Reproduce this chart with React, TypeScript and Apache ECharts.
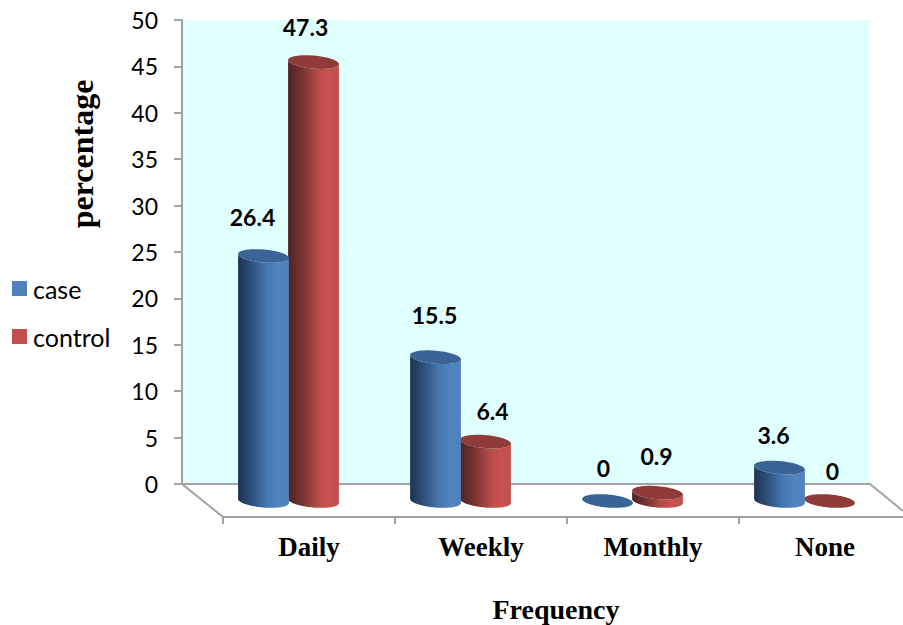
import React, { useEffect, useRef } from "react";
import * as echarts from "echarts";

const categories = ["Daily", "Weekly", "Monthly", "None"];
const caseValues = [26.4, 15.5, 0, 3.6];
const controlValues = [47.3, 6.4, 0.9, 0];
const yTicks = { min: 0, max: 50, interval: 5 };

// Hand placement of the value labels relative to each cylinder's top centre.
const caseLabelShift = [[-11, -39], [-1, -42], [-4, -33], [-6, -33]];
const controlLabelShift = [[-8, -35], [7, -31], [-1, -37], [3, -30]];

const WALL = { left: 182, top: 20, width: 688, height: 464 };
const FRONT_Y = 517;
const FRONT_LEFT = 223;
const DEPTH_X = 21; // cylinders stand halfway across the floor
const DEPTH_Y = 17;
const RADIUS_X = 25.5;
const RADIUS_Y = 6.5;
const TILT = (5 * Math.PI) / 180;

const AXIS_GREY = "#A3A3A3";
const SANS = "Lato, 'Open Sans', sans-serif";
const SERIF = "'Liberation Serif', 'Times New Roman', serif";

type Palette = { legend: string; top: string; side: [number, string][] };

const casePalette: Palette = {
  legend: "#4F81BD",
  top: "#3A6496",
  side: [[0, "#1E3350"], [0.3, "#2F5583"], [0.6, "#4A7AB3"], [0.8, "#5083C0"], [1, "#4F81BD"]],
};
const controlPalette: Palette = {
  legend: "#C0504D",
  top: "#8E3B39",
  side: [[0, "#4E2322"], [0.3, "#7A3533"], [0.6, "#B84C49"], [0.8, "#C8524E"], [1, "#BF4F4C"]],
};

function ellipsePoint(cx: number, cy: number, t: number): number[] {
  const ex = RADIUS_X * Math.cos(t);
  const ey = RADIUS_Y * Math.sin(t);
  return [cx + ex * Math.cos(TILT) - ey * Math.sin(TILT), cy + ex * Math.sin(TILT) + ey * Math.cos(TILT)];
}

// A tilted cylinder: the side wraps the lower half of the base ellipse, the cap sits on top.
function cylinderRenderer(palette: Palette, offsetX: number, shifts: number[][]) {
  return (_params: any, api: any) => {
    const index = api.value(0);
    const value = api.value(1);
    const top = api.coord([index, value]);
    const base = api.coord([index, 0]);
    const cx = top[0] + DEPTH_X + offsetX;
    const topY = top[1] + DEPTH_Y;
    const baseY = base[1] + DEPTH_Y;
    const children: any[] = [];

    if (value > 0) {
      const points: number[][] = [];
      for (let i = 0; i <= 36; i++) points.push(ellipsePoint(cx, baseY, Math.PI - (i / 36) * Math.PI));
      for (let i = 0; i <= 36; i++) points.push(ellipsePoint(cx, topY, (i / 36) * Math.PI));
      children.push({
        type: "polygon",
        shape: { points },
        style: { fill: new echarts.graphic.LinearGradient(0, 0, 1, 0, palette.side.map(([offset, color]) => ({ offset, color }))) },
      });
    }

    const cap: number[][] = [];
    for (let i = 0; i < 72; i++) cap.push(ellipsePoint(cx, topY, (i / 72) * Math.PI * 2));
    children.push({ type: "polygon", shape: { points: cap }, style: { fill: palette.top } });

    const shift = shifts[index];
    children.push({
      type: "text",
      style: {
        text: String(value),
        x: cx + shift[0],
        y: topY + shift[1],
        fill: "#000",
        font: `bold 23px ${SANS}`,
        textAlign: "center",
        textVerticalAlign: "middle",
      },
    });
    return { type: "group", children };
  };
}

export default function App() {
  const ref = useRef<HTMLDivElement>(null);

  useEffect(() => {
    const chart = echarts.init(ref.current!, null, { renderer: "svg" });
    chart.setOption({
      animation: false,
      backgroundColor: "#fff",
      legend: {
        orient: "vertical",
        left: 12,
        top: 276,
        padding: 0,
        itemWidth: 15,
        itemHeight: 15,
        itemGap: 23,
        icon: "rect",
        data: ["case", "control"],
        textStyle: { fontFamily: SANS, fontSize: 25, color: "#000", padding: [0, 0, 0, 1] },
      },
      grid: [
        { left: WALL.left, top: WALL.top, width: WALL.width, height: WALL.height, show: true, backgroundColor: "#E0FFFF", borderWidth: 0, outerBoundsMode: "none" },
        { left: FRONT_LEFT, top: WALL.top, width: WALL.width, height: FRONT_Y - WALL.top, show: false, outerBoundsMode: "none" },
      ],
      xAxis: [
        {
          type: "category",
          gridIndex: 0,
          data: categories,
          axisLine: { lineStyle: { color: AXIS_GREY, width: 2 } },
          axisTick: { show: false },
          axisLabel: { show: false },
        },
        {
          type: "category",
          gridIndex: 1,
          data: categories,
          name: "Frequency",
          nameLocation: "middle",
          nameGap: 78,
          nameTextStyle: { fontFamily: SERIF, fontWeight: "bold", fontSize: 28, color: "#000", padding: [0, 22, 0, 0] },
          axisLine: { lineStyle: { color: AXIS_GREY, width: 2 } },
          axisTick: { show: true, length: 7, lineStyle: { color: AXIS_GREY, width: 2 } },
          axisLabel: { fontFamily: SERIF, fontWeight: "bold", fontSize: 27, color: "#000", margin: 16 },
        },
      ],
      yAxis: [
        {
          type: "value",
          gridIndex: 0,
          ...yTicks,
          name: "percentage",
          nameLocation: "middle",
          nameGap: 84,
          nameTextStyle: { fontFamily: SERIF, fontWeight: "bold", fontSize: 32, color: "#000", padding: [0, 0, 0, 196] },
          axisLine: { show: true, lineStyle: { color: AXIS_GREY, width: 2 } },
          axisTick: { show: true, length: 8, lineStyle: { color: AXIS_GREY, width: 2 } },
          axisLabel: { fontFamily: SANS, fontSize: 23, color: "#000", margin: 24 },
          splitLine: { show: false },
        },
        { type: "value", gridIndex: 1, show: false, min: 0, max: 1, splitLine: { show: false } },
      ],
      series: [
        {
          type: "custom",
          name: "case",
          xAxisIndex: 0,
          yAxisIndex: 0,
          z: 4,
          itemStyle: { color: casePalette.legend },
          data: caseValues.map((v, i) => [i, v]),
          encode: { x: 0, y: 1 },
          renderItem: cylinderRenderer(casePalette, -RADIUS_X, caseLabelShift),
        },
        {
          type: "custom",
          name: "control",
          xAxisIndex: 0,
          yAxisIndex: 0,
          z: 3,
          itemStyle: { color: controlPalette.legend },
          data: controlValues.map((v, i) => [i, v]),
          encode: { x: 0, y: 1 },
          renderItem: cylinderRenderer(controlPalette, RADIUS_X - 1, controlLabelShift),
        },
      ],
      graphic: [
        // Side edges of the floor, joining the back wall to the front axis.
        { type: "line", silent: true, shape: { x1: 182, y1: 484, x2: 223, y2: 517 }, style: { stroke: AXIS_GREY, lineWidth: 2 } },
        { type: "line", silent: true, shape: { x1: 870, y1: 484, x2: 903, y2: 511 }, style: { stroke: AXIS_GREY, lineWidth: 2 } },
      ],
    });
    return () => chart.dispose();
  }, []);

  return <div ref={ref} style={{ position: "fixed", left: 0, top: 0, width: 903, height: 625 }} />;
}
